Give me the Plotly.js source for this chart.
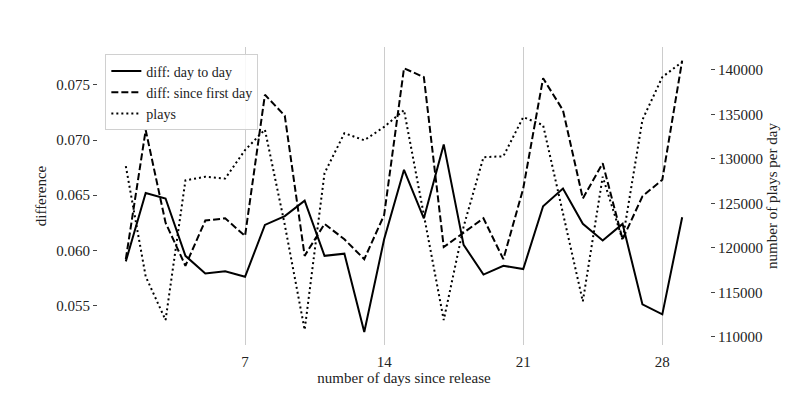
<!DOCTYPE html>
<html>
<head>
<meta charset="utf-8">
<script src="https://cdn.plot.ly/plotly-3.0.1.min.js"></script>
<style>html,body{margin:0;padding:0;background:#fff;}#chart{width:789px;height:395px;}</style>
</head>
<body>
<div id="chart"></div>
<script>
const days = [1,2,3,4,5,6,7,8,9,10,11,12,13,14,15,16,17,18,19,20,21,22,23,24,25,26,27,28,29];
const diffDayToDay = [0.0590,0.0652,0.0647,0.0595,0.0579,0.0581,0.0576,0.0623,0.0631,0.0645,0.0595,0.0597,0.0526,0.0610,0.0673,0.0629,0.0696,0.0605,0.0578,0.0586,0.0583,0.0640,0.0656,0.0624,0.0609,0.0624,0.0551,0.0542,0.0630];
const diffSinceFirst = [0.0592,0.0709,0.0625,0.0586,0.0627,0.0629,0.0613,0.0741,0.0722,0.0595,0.0624,0.0610,0.0592,0.0632,0.0765,0.0757,0.0603,0.0616,0.0629,0.0592,0.0656,0.0756,0.0727,0.0647,0.0679,0.0610,0.0649,0.0664,0.0772];
const plays = [129200,116800,111900,127600,128000,127800,131000,133300,122600,110800,128400,132900,132100,133600,135500,123600,111900,122400,130200,130300,134700,133800,123900,114000,128000,120900,134400,139200,140900];
const xTicks = [7,14,21,28];
const leftTicks = [0.055,0.060,0.065,0.070,0.075];
const rightTicks = [110000,115000,120000,125000,130000,135000,140000];

const font = {family: 'Liberation Serif, Times New Roman, serif', size: 15, color: '#222'};
const legendFont = {family: 'Liberation Serif, Times New Roman, serif', size: 14, color: '#222'};

const traces = [
  {x: days, y: diffDayToDay, name: 'diff: day to day', mode: 'lines', line: {color: '#000', width: 2}, yaxis: 'y'},
  {x: days, y: diffSinceFirst, name: 'diff: since first day', mode: 'lines', line: {color: '#000', width: 2, dash: '7px,3px'}, yaxis: 'y'},
  {x: days, y: plays, name: 'plays', mode: 'lines', line: {color: '#000', width: 2, dash: '2px,3px'}, yaxis: 'y2'}
];

const layout = {
  width: 789, height: 395,
  margin: {l: 98, r: 79, t: 47, b: 50},
  paper_bgcolor: '#fff', plot_bgcolor: '#fff',
  font: font,
  showlegend: true,
  legend: {x: 0.012, y: 0.975, xanchor: 'left', yanchor: 'top', bgcolor: 'rgba(255,255,255,0.85)', bordercolor: '#d0d0d0', borderwidth: 1, font: legendFont, tracegroupgap: 0, itemwidth: 30},
  xaxis: {
    range: [-0.4, 30.4], tickvals: xTicks, ticktext: xTicks.map(String),
    showgrid: true, gridcolor: '#cccccc', gridwidth: 1, zeroline: false, showline: false,
    ticks: '', ticklabelstandoff: 6,
    title: {text: 'number of days since release', font: font, standoff: 2}
  },
  yaxis: {
    range: [0.05142, 0.07843], tickvals: leftTicks, ticktext: leftTicks.map(v => v.toFixed(3)),
    showgrid: false, zeroline: false, showline: false,
    ticks: 'outside', ticklen: 4, tickcolor: '#444', tickwidth: 1,
    title: {text: 'difference', font: font, standoff: 6}
  },
  yaxis2: {
    overlaying: 'y', side: 'right',
    range: [109100, 142580], tickvals: rightTicks, ticktext: rightTicks.map(String),
    showgrid: false, zeroline: false, showline: false,
    ticks: 'outside', ticklen: 4, tickcolor: '#444', tickwidth: 1,
    title: {text: 'number of plays per day', font: font, standoff: 4}
  }
};

Plotly.newPlot('chart', traces, layout, {staticPlot: true, displayModeBar: false});
</script>
</body>
</html>
